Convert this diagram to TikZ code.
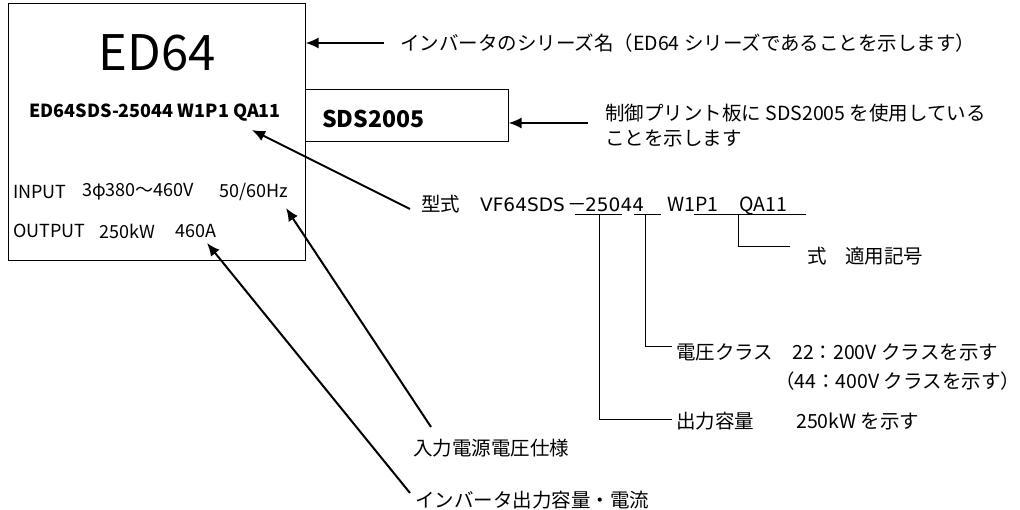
\documentclass[tikz,border=0pt]{standalone}
\usepackage{fontspec}
\setmainfont{Noto Sans CJK JP}
\newfontfamily\widesans{DejaVu Sans}
\usetikzlibrary{arrows.meta}

\begin{document}
\begin{tikzpicture}[x=1pt,y=-1pt,
    plate/.style={draw,line width=1pt,inner sep=0pt},
    ptxt/.style={anchor=west,inner sep=0pt,font=\fontsize{18}{20}\selectfont},
    note/.style={anchor=west,inner sep=0pt,font=\fontsize{19.5}{25}\selectfont},
    code/.style={note,anchor=base west},
    pointer/.style={line width=2pt,-{Latex[length=13pt,width=11pt]}},
    bracket/.style={line width=1pt}]
    \useasboundingbox (0,0) rectangle (1020,510);

    % name plate
    \node[plate,minimum width=297pt,minimum height=257pt] (plate) at (156.5,132.5) {};
    \node[plate,minimum width=203pt,minimum height=52pt] (sdsbox) at (406.5,116) {};
    \node (series) at (157,53) {\fontsize{49}{50}\selectfont ED64};
    \node (model) at (155,113) {\fontsize{18}{20}\selectfont\bfseries ED64SDS-25044 W1P1 QA11};
    \node[ptxt] (in1) at (13,192) {INPUT};
    \node[ptxt] (in2) at (82,192) {3φ380～460V};
    \node[ptxt] (in3) at (219,192) {50/60Hz};
    \node[ptxt] (out1) at (13,231) {OUTPUT};
    \node[ptxt] (out2) at (99,231) {250kW};
    \node[ptxt] (out3) at (175,231) {460A};
    \node[anchor=west,inner sep=0pt] (sds) at (322,119) {\fontsize{23}{25}\selectfont\bfseries SDS2005};

    % notes
    \node[note] (seriesnote) at (400,43) {インバータのシリーズ名（ED64 シリーズであることを示します）};
    \node[note,align=left] (sdsnote) at (605,126) {制御プリント板に SDS2005 を使用している\\ことを示します};
    \node[code] (kata) at (421,212) {型式};
    \node[code] (kata2) at (480,212) {\widesans\fontsize{18.5}{20}\selectfont VF64SDS};
    \node[code] (kata2a) at (567,212) {－};
    \node[code] (kata2b) at (585,212) {\widesans\fontsize{18.5}{20}\selectfont 25044};
    \node[code] (kata3) at (667,212) {W1P1};
    \node[code] (kata4) at (739,212) {QA11};
    \node[note] (symnote) at (807,256) {式};
    \node[note] (symnote2) at (845,256) {適用記号};
    \node[note] (voltnote) at (676,352) {電圧クラス};
    \node[note] (voltnote2) at (792,352) {22：200V クラスを示す};
    \node[note] (voltnote3) at (775,381) {（44：400V クラスを示す）};
    \node[note] (capnote) at (676,421) {出力容量};
    \node[note] (capnote2) at (796,421) {250kW を示す};
    \node[note] (innote) at (413,448) {入力電源電圧仕様};
    \node[note] (outnote) at (415,500) {インバータ出力容量・電流};

    % arrows
    \coordinate (sdstail) at (588,123);
    \coordinate (modeltip) at (252,130);
    \coordinate (intip) at (286,208);
    \coordinate (outtip) at (207,243);
    \draw[pointer] ([xshift=-16pt]seriesnote.west) -- (seriesnote.west -| plate.east);
    \draw[pointer] (sdstail) -- (sdstail -| sdsbox.east);
    \draw[pointer] ([shift={(-11,-3)}]kata.base west) -- (modeltip);
    \draw[pointer] ([shift={(18,-21)}]innote.west) -- (intip);
    \draw[pointer] ([shift={(-5,-7)}]outnote.west) -- (outtip);

    % underlines of the type code
    \draw[bracket] (575,215) -- (622,215);
    \draw[bracket] (634,215) -- (661,215);
    \draw[bracket] (694,215) -- (806,215);
    \draw[bracket] (599,215) |- (672,419);
    \draw[bracket] (645,215) |- (672,347);
    \draw[bracket] (738,215) |- (790,247);
\end{tikzpicture}
\end{document}
